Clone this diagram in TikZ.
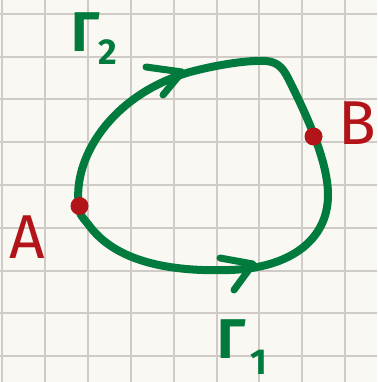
\documentclass[tikz,border=0pt]{standalone}
\usepackage{fontspec}
\setmainfont{Fira Sans}
\definecolor{paper}{RGB}{250,248,243}
\definecolor{gridc}{RGB}{208,203,198}
\definecolor{pen}{RGB}{0,122,61}
\definecolor{ink}{RGB}{178,20,25}
\tikzset{
  gridline/.style={gridc, line width=2pt},
  curve/.style={pen, line width=8pt, line cap=round, line join=round},
  arrowstroke/.style={pen, line width=7pt, line cap=round, line join=round},
  dot/.style={circle, fill=ink, inner sep=0pt, minimum size=18pt},
  redlabel/.style={ink, inner sep=0pt, anchor=base, font=\fontsize{62}{62}\selectfont},
  gam/.style={pen, inner sep=0pt, anchor=base, font=\bfseries\fontsize{56}{56}\selectfont},
  sub/.style={pen, inner sep=0pt, anchor=base, font=\bfseries\fontsize{36}{36}\selectfont}
}
\begin{document}
\begin{tikzpicture}[x=1pt,y=-1pt]
\fill[paper] (0,0) rectangle (377,382);
\useasboundingbox (0,0) rectangle (377,382);
\foreach \i in {0,...,8} {
  \draw[gridline] ({2+42.9*\i},0) -- ({2+42.9*\i},382);
  \draw[gridline] (0,{14+42.75*\i}) -- (377,{14+42.75*\i});
}
\coordinate (pA) at (79,206);
\coordinate (p1) at (190,72);
\coordinate (p2) at (266,61);
\coordinate (p3) at (288,78);
\coordinate (p4) at (328,195);
\coordinate (p5) at (230,270);
\coordinate (p6) at (88,224);
\draw[curve] (pA) .. controls (72,160) and (110,95) .. (p1)
  .. controls (220,64) and (250,60) .. (p2)
  .. controls (276,62) and (282,66) .. (p3)
  .. controls (305,112) and (328,160) .. (p4)
  .. controls (328,240) and (290,268) .. (p5)
  .. controls (170,272) and (115,262) .. (p6)
  .. controls (82,217) and (78,212) .. cycle;
\coordinate (t2) at (182,72);
\coordinate (t2a) at (146,67);
\coordinate (t2b) at (163,95);
\draw[arrowstroke] (t2a) -- (t2) -- (t2b);
\coordinate (t1) at (253,264);
\coordinate (t1a) at (220,258);
\coordinate (t1b) at (234,290);
\draw[arrowstroke] (t1a) -- (t1) -- (t1b);
\node[dot] (A) at (79.5,206) {};
\node[dot] (B) at (313.5,136.5) {};
\node[redlabel] (la) at (27,258) {A};
\node[redlabel] (lb) at (357,145) {B};
\node[gam] (g2) at (86,52) {Γ};
\node[sub] (s2) at (108,65) {2};
\node[gam] (g1) at (232,358) {Γ};
\node[sub] (s1) at (259,374) {1};
\end{tikzpicture}
\end{document}
